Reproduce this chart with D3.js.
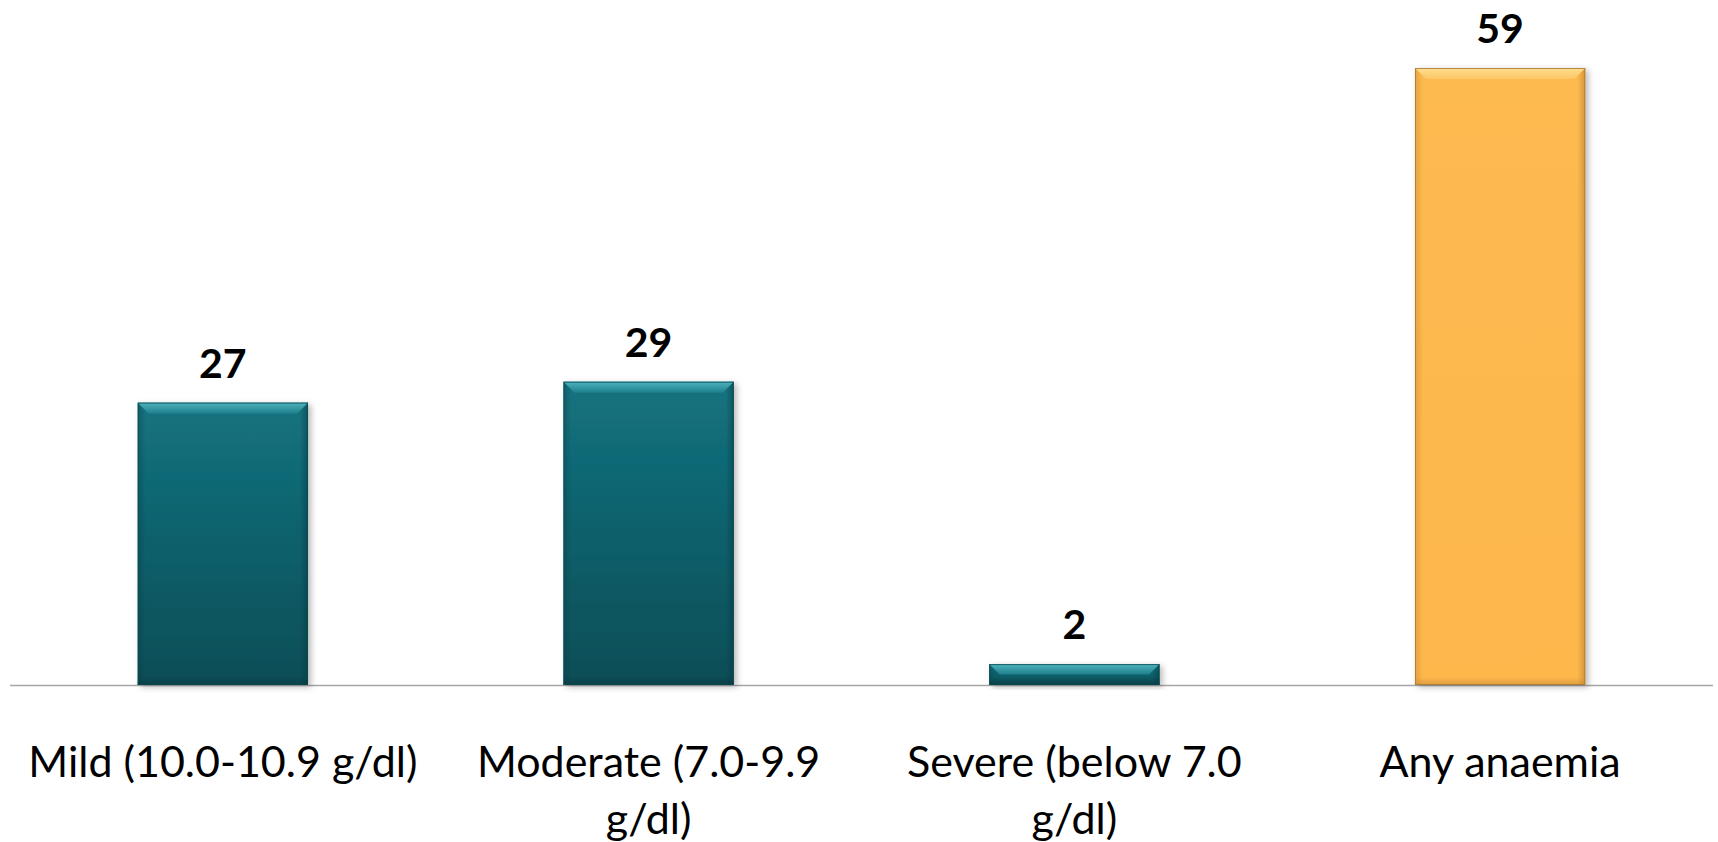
<!DOCTYPE html>
<html>
<head>
<meta charset="utf-8">
<script src="https://cdn.jsdelivr.net/npm/d3@7"></script>
<style>
  html, body { margin: 0; padding: 0; background: #ffffff; }
  svg { display: block; }
</style>
</head>
<body>
<svg id="chart" width="1718" height="842"></svg>
<script>
// Prevalence of anaemia by severity (%)
const categories = ["Mild", "Moderate", "Severe", "Any"];
const categoryLabels = [
  ["Mild (10.0-10.9 g/dl)"],
  ["Moderate (7.0-9.9", "g/dl)"],
  ["Severe (below 7.0", "g/dl)"],
  ["Any anaemia"]
];
const values = [27, 29, 2, 59];
const palettes = ["teal", "teal", "teal", "amber"];

const baseY = 685;
const svg = d3.select("#chart");

const x = d3.scaleBand()
  .domain(categories)
  .range([10, 1713])
  .paddingInner(0.6)
  .paddingOuter(0.3);

const y = d3.scaleLinear()
  .domain([0, 59])
  .range([baseY, 68]);

const defs = svg.append("defs");

// colour sets for bar body and bevel faces
const colours = {
  teal: {
    top: "#137380", bottom: "#0b4d56",
    bevelTop: ["#4fb3bd", "#1d7f8b"],
    side: "#073a41", base: "#063339", edge: "#0a4a53"
  },
  amber: {
    top: "#fdba50", bottom: "#fdb74c",
    bevelTop: ["#fee08f", "#fdc564"],
    side: "#b57a2a", base: "#c48a38", edge: "#a87530"
  }
};

Object.entries(colours).forEach(([k, c]) => {
  const g = defs.append("linearGradient").attr("id", "body-" + k)
    .attr("x1", 0).attr("y1", 0).attr("x2", 0).attr("y2", 1);
  g.append("stop").attr("offset", "0%").attr("stop-color", c.top);
  g.append("stop").attr("offset", "100%").attr("stop-color", c.bottom);

  const b = defs.append("linearGradient").attr("id", "bevel-" + k)
    .attr("x1", 0).attr("y1", 0).attr("x2", 0).attr("y2", 1);
  b.append("stop").attr("offset", "0%").attr("stop-color", c.bevelTop[0]);
  b.append("stop").attr("offset", "100%").attr("stop-color", c.bevelTop[1]);

  // soft inner shading on the side and bottom faces
  const mk = (id, x1, y1, x2, y2, col, op) => {
    const s = defs.append("linearGradient").attr("id", id)
      .attr("x1", x1).attr("y1", y1).attr("x2", x2).attr("y2", y2);
    s.append("stop").attr("offset", "0%").attr("stop-color", col).attr("stop-opacity", op);
    s.append("stop").attr("offset", "100%").attr("stop-color", col).attr("stop-opacity", 0);
  };
  mk("left-" + k, 0, 0, 1, 0, c.side, 0.35);
  mk("right-" + k, 1, 0, 0, 0, c.side, 0.55);
  mk("base-" + k, 0, 1, 0, 0, c.base, 0.55);
});

const shadow = defs.append("filter").attr("id", "shadow")
  .attr("x", "-10%").attr("y", "-10%").attr("width", "130%").attr("height", "130%");
shadow.append("feDropShadow")
  .attr("dx", 3).attr("dy", 2).attr("stdDeviation", 3)
  .attr("flood-color", "#000").attr("flood-opacity", 0.28);

// baseline axis
svg.append("line")
  .attr("x1", 10).attr("x2", 1713)
  .attr("y1", baseY + 0.5).attr("y2", baseY + 0.5)
  .attr("stroke", "#a6a6a6").attr("stroke-width", 1.5);

const bars = svg.append("g").selectAll("g.bar")
  .data(values.map((v, i) => ({ v, i, cat: categories[i], pal: palettes[i] })))
  .join("g").attr("class", "bar");

bars.each(function (d) {
  const g = d3.select(this);
  const c = colours[d.pal];
  const x0 = x(d.cat), x1 = x0 + x.bandwidth();
  const y0 = y(d.v), y1 = y(0);
  const b = Math.min(11, (y1 - y0) / 2);
  const s = Math.min(8, (y1 - y0) / 3);

  g.append("rect")
    .attr("x", x0).attr("y", y0)
    .attr("width", x1 - x0).attr("height", y1 - y0)
    .attr("fill", `url(#body-${d.pal})`)
    .attr("filter", "url(#shadow)");

  // side and bottom shading
  g.append("rect").attr("x", x0).attr("y", y0).attr("width", s).attr("height", y1 - y0)
    .attr("fill", `url(#left-${d.pal})`);
  g.append("rect").attr("x", x1 - s).attr("y", y0).attr("width", s).attr("height", y1 - y0)
    .attr("fill", `url(#right-${d.pal})`);
  g.append("rect").attr("x", x0).attr("y", y1 - s).attr("width", x1 - x0).attr("height", s)
    .attr("fill", `url(#base-${d.pal})`);

  // top bevel face with mitred corners
  const pts = [[x0, y0], [x1, y0], [x1 - b, y0 + b], [x0 + b, y0 + b]];
  g.append("polygon")
    .attr("points", pts.map(p => p.join(",")).join(" "))
    .attr("fill", `url(#bevel-${d.pal})`);

  g.append("rect")
    .attr("x", x0 + 0.5).attr("y", y0 + 0.5)
    .attr("width", x1 - x0 - 1).attr("height", y1 - y0 - 1)
    .attr("fill", "none").attr("stroke", c.edge).attr("stroke-width", 1).attr("opacity", 0.8);
});

// value labels above bars
svg.append("g").selectAll("text")
  .data(values)
  .join("text")
  .attr("x", (d, i) => x(categories[i]) + x.bandwidth() / 2)
  .attr("y", d => y(d) - 25)
  .attr("text-anchor", "middle")
  .attr("font-family", "Lato, 'Open Sans', sans-serif")
  .attr("font-weight", "bold")
  .attr("font-size", 41)
  .attr("fill", "#000")
  .text(d => d);

// category labels, wrapped over lines
const labels = svg.append("g").selectAll("text")
  .data(categoryLabels)
  .join("text")
  .attr("x", (d, i) => x(categories[i]) + x.bandwidth() / 2)
  .attr("y", baseY + 92)
  .attr("text-anchor", "middle")
  .attr("font-family", "Lato, 'Open Sans', sans-serif")
  .attr("font-size", 43)
  .attr("fill", "#000");

labels.each(function (lines) {
  const t = d3.select(this);
  const cx = t.attr("x");
  lines.forEach((ln, j) => {
    t.append("tspan").attr("x", cx).attr("dy", j === 0 ? 0 : 57).text(ln);
  });
});
</script>
</body>
</html>
